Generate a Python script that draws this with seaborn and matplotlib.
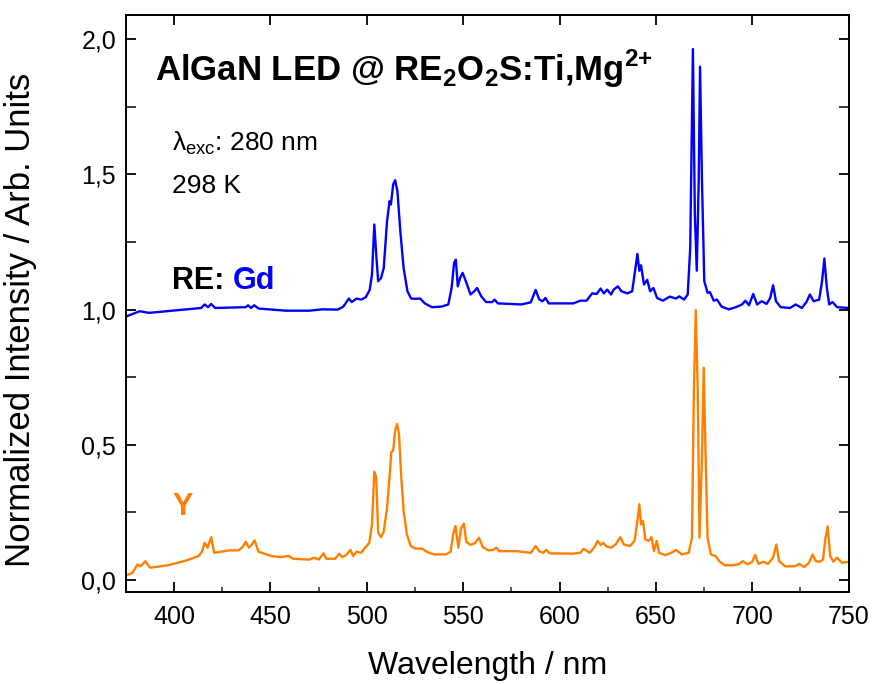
#espectros de emissão normalizados (RE = Gd e Y)
import matplotlib
matplotlib.use("Agg")
import matplotlib.pyplot as plt
import matplotlib.ticker as mticker
import pandas as pd
import seaborn as sns

# serie RE: Gd (curva azul, deslocada em +1)
gd_wl = [375.3, 382.2, 387.1, 414.0, 415.9, 417.6, 419.3, 421.3, 437.2, 438.4, 439.9, 441.6,
         443.8, 458.0, 470.2, 477.0, 484.9, 487.8, 490.7, 492.2, 494.7, 497.1, 499.5, 501.5,
         502.7, 503.9, 504.9, 505.9, 507.4, 508.8, 510.5, 511.8, 512.5, 513.7, 514.7, 515.9,
         517.4, 519.1, 521.1, 523.0, 525.2, 527.7, 530.1, 533.8, 538.7, 542.3, 544.0, 545.3,
         546.2, 547.2, 548.4, 549.7, 551.4, 553.8, 555.8, 557.2, 559.4, 561.9, 565.1, 566.3,
         568.0, 580.2, 585.1, 587.6, 589.5, 591.2, 592.7, 594.4, 607.1, 610.8, 614.0, 616.9,
         619.3, 621.3, 623.0, 624.7, 626.7, 628.1, 630.3, 632.1, 635.2, 637.7, 638.9, 640.4,
         641.4, 642.3, 643.8, 645.5, 647.0, 648.7, 650.6, 653.6, 657.2, 660.4, 662.1, 664.6,
         666.5, 667.8, 669.2, 670.2, 671.2, 672.2, 672.9, 673.9, 675.1, 676.8, 678.0, 680.0,
         681.7, 684.1, 687.8, 691.5, 694.7, 696.4, 698.3, 700.5, 702.5, 704.9, 707.4, 709.3,
         710.8, 712.3, 714.7, 719.6, 722.5, 725.7, 728.1, 729.9, 731.8, 734.7, 736.2, 737.4,
         738.7, 739.9, 741.6, 744.0, 750.0]
gd_int = [0.975, 0.994, 0.988, 1.006, 1.019, 1.009, 1.021, 1.006, 1.009, 1.016, 1.006, 1.016,
          1.004, 0.996, 0.996, 1.001, 1.000, 1.011, 1.041, 1.028, 1.041, 1.037, 1.046, 1.073,
          1.130, 1.315, 1.204, 1.105, 1.117, 1.154, 1.327, 1.401, 1.389, 1.463, 1.479, 1.438,
          1.290, 1.154, 1.068, 1.041, 1.040, 1.041, 1.023, 1.009, 1.011, 1.019, 1.080, 1.173,
          1.185, 1.086, 1.117, 1.136, 1.105, 1.056, 1.068, 1.080, 1.049, 1.028, 1.028, 1.037,
          1.023, 1.019, 1.027, 1.073, 1.037, 1.031, 1.043, 1.023, 1.023, 1.033, 1.033, 1.060,
          1.058, 1.078, 1.060, 1.074, 1.056, 1.074, 1.086, 1.068, 1.060, 1.068, 1.130, 1.206,
          1.144, 1.164, 1.093, 1.110, 1.068, 1.080, 1.043, 1.033, 1.048, 1.041, 1.049, 1.037,
          1.056, 1.228, 1.964, 1.352, 1.144, 1.475, 1.899, 1.475, 1.105, 1.062, 1.065, 1.033,
          1.037, 1.011, 1.001, 1.009, 1.019, 1.033, 1.016, 1.058, 1.019, 1.031, 1.021, 1.043,
          1.090, 1.031, 1.009, 1.006, 1.019, 1.006, 1.028, 1.056, 1.031, 1.037, 1.105, 1.189,
          1.080, 1.019, 1.028, 1.009, 1.006]

# serie RE: Y (curva laranja)
y_wl = [375.3, 378.5, 381.0, 382.7, 385.1, 387.6, 396.9, 406.6, 412.7, 414.5, 415.9, 417.4,
        419.3, 420.8, 428.6, 433.5, 435.5, 437.2, 438.9, 440.4, 441.8, 443.8, 450.6, 455.5,
        459.4, 461.6, 470.2, 472.6, 475.1, 477.5, 479.0, 483.6, 485.6, 487.3, 489.3, 491.5,
        492.9, 494.7, 497.1, 499.1, 501.3, 502.7, 503.9, 504.9, 505.9, 507.4, 508.8, 510.5,
        511.8, 512.7, 513.7, 514.7, 515.7, 516.7, 517.9, 519.1, 520.8, 522.8, 525.2, 528.9,
        531.3, 535.0, 541.1, 543.5, 544.8, 546.0, 547.5, 548.9, 550.4, 551.6, 553.8, 556.3,
        558.2, 560.2, 563.1, 565.6, 567.3, 568.7, 577.8, 585.1, 587.6, 589.5, 591.5, 593.2,
        594.9, 607.1, 610.8, 612.5, 615.7, 618.1, 619.8, 621.3, 622.8, 624.2, 626.7, 629.1,
        631.6, 633.3, 636.5, 638.9, 640.4, 641.4, 642.3, 643.3, 644.5, 646.2, 647.7, 649.0,
        650.4, 651.6, 654.8, 658.0, 660.4, 663.4, 667.0, 668.7, 669.7, 670.7, 671.7, 672.6,
        673.9, 674.8, 675.8, 676.8, 678.5, 681.0, 682.9, 685.8, 690.3, 693.2, 695.1, 697.6,
        700.0, 701.5, 703.2, 705.7, 708.1, 710.8, 712.5, 713.9, 717.1, 722.0, 724.5, 726.9,
        729.4, 731.3, 733.0, 735.2, 736.7, 737.9, 739.1, 740.4, 742.1, 744.0, 746.5, 750.0]
y_int = [0.017, 0.026, 0.057, 0.050, 0.069, 0.045, 0.054, 0.072, 0.088, 0.104, 0.137, 0.119,
         0.158, 0.100, 0.109, 0.109, 0.121, 0.141, 0.119, 0.131, 0.146, 0.104, 0.088, 0.084,
         0.089, 0.078, 0.075, 0.082, 0.075, 0.098, 0.078, 0.078, 0.097, 0.084, 0.092, 0.111,
         0.088, 0.104, 0.100, 0.119, 0.137, 0.205, 0.400, 0.379, 0.175, 0.158, 0.178, 0.267,
         0.379, 0.472, 0.478, 0.552, 0.577, 0.540, 0.379, 0.255, 0.168, 0.125, 0.116, 0.115,
         0.103, 0.094, 0.094, 0.104, 0.168, 0.199, 0.119, 0.191, 0.208, 0.141, 0.129, 0.137,
         0.156, 0.121, 0.109, 0.111, 0.119, 0.106, 0.106, 0.100, 0.125, 0.106, 0.100, 0.111,
         0.098, 0.097, 0.100, 0.115, 0.100, 0.121, 0.144, 0.129, 0.137, 0.124, 0.119, 0.131,
         0.158, 0.131, 0.125, 0.144, 0.218, 0.280, 0.205, 0.218, 0.150, 0.144, 0.158, 0.106,
         0.144, 0.100, 0.092, 0.100, 0.111, 0.094, 0.100, 0.156, 0.700, 0.998, 0.700, 0.156,
         0.453, 0.785, 0.453, 0.156, 0.094, 0.088, 0.069, 0.054, 0.054, 0.059, 0.069, 0.057,
         0.067, 0.092, 0.059, 0.067, 0.059, 0.082, 0.131, 0.069, 0.050, 0.050, 0.059, 0.047,
         0.063, 0.094, 0.069, 0.067, 0.075, 0.150, 0.198, 0.088, 0.067, 0.082, 0.063, 0.067]

sns.set_style("ticks")
plt.rcParams["font.family"] = ["Liberation Sans", "DejaVu Sans"]
plt.rcParams["mathtext.fontset"] = "custom"
plt.rcParams["mathtext.rm"] = "Liberation Sans"
plt.rcParams["mathtext.bf"] = "Liberation Sans:bold"
plt.rcParams["text.color"] = "black"
plt.rcParams["axes.labelcolor"] = "black"

df_gd = pd.DataFrame({"wl": gd_wl, "intensidade": gd_int})
df_y = pd.DataFrame({"wl": y_wl, "intensidade": y_int})

fig = plt.figure(figsize=(8.74, 6.84), dpi=100)
ax = fig.add_axes([0.144, 0.1345, 0.827, 0.8435])

sns.lineplot(data=df_gd, x="wl", y="intensidade", color="#0000FF", linewidth=1.7, ax=ax)
sns.lineplot(data=df_y, x="wl", y="intensidade", color="#FF8000", linewidth=1.7, ax=ax)

ax.set_xlim(375, 750)
ax.set_ylim(-0.045, 2.09)
ax.xaxis.set_major_locator(mticker.MultipleLocator(50))
ax.xaxis.set_minor_locator(mticker.MultipleLocator(25))
ax.yaxis.set_major_locator(mticker.MultipleLocator(0.5))
ax.yaxis.set_minor_locator(mticker.MultipleLocator(0.25))
ax.yaxis.set_major_formatter(mticker.FuncFormatter(lambda v, p: f"{v:.1f}".replace(".", ",")))

ax.tick_params(which="major", direction="in", length=7, width=1.3, top=True, right=True,
               labelsize=18, colors="black")
ax.tick_params(axis="x", which="major", pad=9)
ax.tick_params(axis="y", which="major", pad=7)
ax.tick_params(axis="x", which="minor", direction="in", length=3.6, width=1.1, top=False)
ax.tick_params(axis="y", which="minor", direction="in", length=7, width=1.3, right=True)
for s in ax.spines.values():
    s.set_linewidth(1.4)
    s.set_color("black")

ax.set_xlabel("Wavelength / nm", fontsize=23, labelpad=16)
ax.set_ylabel("Normalized Intensity / Arb. Units", fontsize=25)
ax.yaxis.set_label_coords(-0.123, 0.471)

# anotações de texto (posições em coordenadas do eixo)
ax.text(0.040, 0.886, r"AlGaN LED @ RE$_\mathbf{2}$O$_\mathbf{2}$S:Ti,Mg$^{\mathbf{2}\mathbf{+}}$",
        transform=ax.transAxes, fontsize=25, fontweight="bold", va="baseline", ha="left")
ax.text(0.064, 0.765, "λ$_{\\mathrm{exc}}$: 280 nm", transform=ax.transAxes,
        fontsize=19, va="baseline", ha="left")
ax.text(0.064, 0.6915, "298 K", transform=ax.transAxes, fontsize=19, va="baseline", ha="left")
t = ax.text(0.064, 0.526, "RE: ", transform=ax.transAxes, fontsize=22, fontweight="bold",
            va="baseline", ha="left")
ax.annotate("Gd", xycoords=t, xy=(1, 0), va="bottom", ha="left", fontsize=22,
            fontweight="bold", color="#0000FF")
ax.text(0.064, 0.133, "Y", transform=ax.transAxes, fontsize=22, fontweight="bold",
        color="#FF8000", va="baseline", ha="left")

fig.savefig("out.png", dpi=100)
